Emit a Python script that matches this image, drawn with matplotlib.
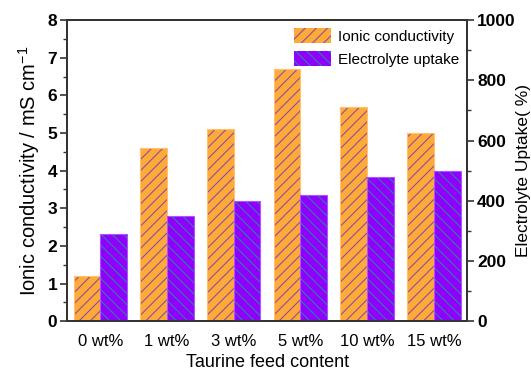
import numpy as np
import matplotlib.pyplot as plt
from matplotlib.ticker import MultipleLocator

plt.rcParams['font.family'] = ['Liberation Sans', 'DejaVu Sans']
plt.rcParams['mathtext.fontset'] = 'custom'
plt.rcParams['mathtext.rm'] = 'Liberation Sans'
plt.rcParams['mathtext.it'] = 'Liberation Sans:italic'
plt.rcParams['mathtext.bf'] = 'Liberation Sans:bold'
plt.rcParams['hatch.linewidth'] = 0.8

categories = ["0 wt%", "1 wt%", "3 wt%", "5 wt%", "10 wt%", "15 wt%"]
conductivity = [1.2, 4.6, 5.1, 6.7, 5.7, 5.0]   # mS cm-1
uptake = [290, 350, 400, 420, 480, 500]         # %

orange = "#FFAA38"
purple = "#8F00FF"

fig = plt.figure(figsize=(5.31, 3.73), dpi=100)
ax = fig.add_axes([0.126, 0.139, 0.754, 0.807])
ax2 = ax.twinx()

x = np.arange(len(categories))
w = 0.4

b1 = ax.bar(x - w / 2, conductivity, w, color=orange, edgecolor="#8A4FA0",
            hatch="///", linewidth=0, label="Ionic conductivity")
ax.bar(x - w / 2, conductivity, w, fill=False, edgecolor="#FFC070", linewidth=0.8)
b2 = ax2.bar(x + w / 2, uptake, w, color=purple, edgecolor="#2F7FA0",
             hatch="\\\\\\", linewidth=0, label="Electrolyte uptake")
ax2.bar(x + w / 2, uptake, w, fill=False, edgecolor="#B050FF", linewidth=0.8)

ax.set_xlim(-0.5, 5.5)
ax.set_ylim(0, 8)
ax2.set_ylim(0, 1000)

ax.set_xticks(x)
ax.set_xticklabels(categories, fontsize=12)
ax.tick_params(axis="x", length=0, pad=9)

ax.yaxis.set_major_locator(MultipleLocator(1))
ax.yaxis.set_minor_locator(MultipleLocator(0.5))
ax2.yaxis.set_major_locator(MultipleLocator(200))
ax2.yaxis.set_minor_locator(MultipleLocator(100))

for a in (ax, ax2):
    a.tick_params(axis="y", which="major", direction="out", length=5, width=1.2,
                  color="#333333", labelsize=12.5, pad=2)
    a.tick_params(axis="y", which="minor", direction="out", length=3, width=1.0,
                  color="#333333")
    for lab in a.get_yticklabels():
        lab.set_fontweight("bold")
    for s in a.spines.values():
        s.set_linewidth(1.3)
        s.set_color("#333333")

ax.set_xlabel("Taurine feed content", fontsize=13, labelpad=4)
ax.set_ylabel("Ionic conductivity / mS cm$^{-1}$", fontsize=14.5, labelpad=4)
ax2.set_ylabel("Electrolyte Uptake( %)", fontsize=12.5, labelpad=0)

ax2.legend([b1, b2], ["Ionic conductivity", "Electrolyte uptake"], loc="upper right",
           frameon=False, fontsize=11, handlelength=2.4, handleheight=1.2,
           handletextpad=0.5, labelspacing=0.45, borderaxespad=0.1,
           bbox_to_anchor=(1.0, 1.0))

fig.savefig("out.png", dpi=100)
